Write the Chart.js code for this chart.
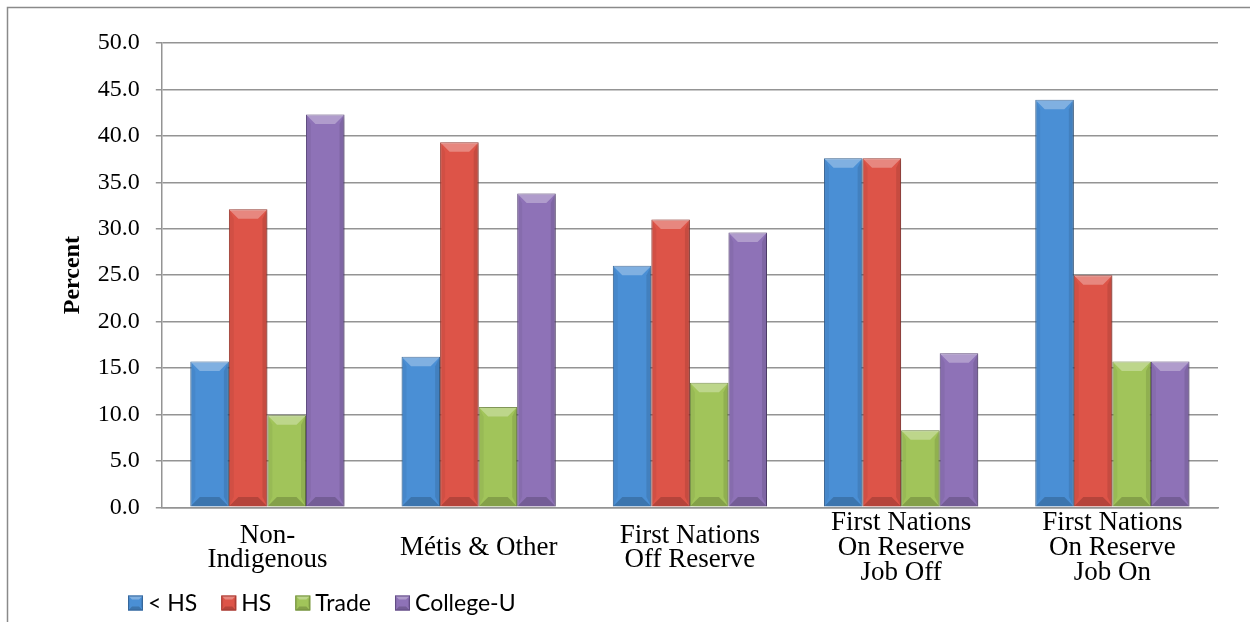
<!DOCTYPE html>
<html>
<head>
<meta charset="utf-8">
<title>Percent by education</title>
<script src="https://cdn.jsdelivr.net/npm/chart.js@4.4.0/dist/chart.umd.min.js"></script>
<style>
    html, body { margin: 0; padding: 0; background: #fff; }
    #wrap { width: 1250px; height: 622px; }
</style>
</head>
<body>
<div id="wrap"><canvas id="bar-chart" width="1250" height="622"></canvas></div>
<script>
    "use strict";

    // Data
    var categories = [
        ["Non-", "Indigenous"],
        "Métis & Other",
        ["First Nations", "Off Reserve"],
        ["First Nations", "On Reserve", "Job Off"],
        ["First Nations", "On Reserve", "Job On"]
    ];
    var seriesNames = ["< HS", "HS", "Trade", "College-U"];
    var lessThanHS = [15.7, 16.2, 26.0, 37.6, 43.9];
    var highSchool = [32.1, 39.3, 31.0, 37.6, 25.0];
    var trade = [9.9, 10.8, 13.4, 8.3, 15.7];
    var collegeU = [42.3, 33.8, 29.6, 16.6, 15.7];
    var yMin = 0, yMax = 50, yStep = 5;

    var faceColors = ["#4a8fd5", "#dd5448", "#a1c45a", "#8e72b7"];
    var edgeColors = ["#36679b", "#a33b32", "#738f3f", "#634d85"];

    var serif = "'Liberation Serif', 'DejaVu Serif', serif";

    // Outer frame
    var framePlugin = {
        id: "frame",
        beforeDraw: function (chart) {
            var ctx = chart.ctx;
            ctx.save();
            ctx.fillStyle = "#fff";
            ctx.fillRect(0, 0, chart.width, chart.height);
            ctx.strokeStyle = "#8a8a8a";
            ctx.lineWidth = 1.5;
            ctx.strokeRect(7.5, 7.5, chart.width + 20, chart.height + 20);
            ctx.restore();
        }
    };

    // soft shadow behind the bars
    var shadowPlugin = {
        id: "barShadow",
        beforeDatasetDraw: function (chart) {
            var ctx = chart.ctx;
            ctx.save();
            ctx.shadowColor = "rgba(0,0,0,0.28)";
            ctx.shadowBlur = 5;
            ctx.shadowOffsetX = 2;
            ctx.shadowOffsetY = 1;
        },
        afterDatasetDraw: function (chart) {
            chart.ctx.restore();
        }
    };

    // bevel look, drawn on top of each bar element
    function bevel(ctx, left, right, top, bottom, b) {
        ctx.fillStyle = "rgba(255,255,255,0.3)";
        ctx.beginPath();
        ctx.moveTo(left, top); ctx.lineTo(right, top);
        ctx.lineTo(right - b, top + b); ctx.lineTo(left + b, top + b);
        ctx.closePath(); ctx.fill();

        ctx.fillStyle = "rgba(0,0,0,0.05)";
        ctx.beginPath();
        ctx.moveTo(left, top); ctx.lineTo(left + b / 2, top + b);
        ctx.lineTo(left + b / 2, bottom - b); ctx.lineTo(left, bottom);
        ctx.closePath(); ctx.fill();

        ctx.fillStyle = "rgba(0,0,0,0.1)";
        ctx.beginPath();
        ctx.moveTo(right, top); ctx.lineTo(right - b / 2, top + b);
        ctx.lineTo(right - b / 2, bottom - b); ctx.lineTo(right, bottom);
        ctx.closePath(); ctx.fill();

        ctx.fillStyle = "rgba(0,0,0,0.18)";
        ctx.beginPath();
        ctx.moveTo(left, bottom); ctx.lineTo(right, bottom);
        ctx.lineTo(right - b, bottom - b); ctx.lineTo(left + b, bottom - b);
        ctx.closePath(); ctx.fill();
    }

    var bevelPlugin = {
        id: "bevel",
        afterDatasetsDraw: function (chart) {
            var ctx = chart.ctx;
            ctx.save();
            chart.getSortedVisibleDatasetMetas().forEach(function (meta) {
                meta.data.forEach(function (el) {
                    var p = el.getProps(["x", "y", "base", "width"], true);
                    var left = p.x - p.width / 2, right = p.x + p.width / 2;
                    var top = Math.min(p.y, p.base), bottom = Math.max(p.y, p.base);
                    var b = Math.min(9, (bottom - top) / 2, p.width / 2);
                    bevel(ctx, left + 0.5, right - 0.5, top + 0.5, bottom - 0.5, b);
                });
            });
            ctx.restore();
        }
    };

    // Legend (bottom left, like the sheet)
    var legendPlugin = {
        id: "sheetLegend",
        afterDraw: function (chart) {
            var ctx = chart.ctx;
            var x = 128, cy = 603, box = 15;
            ctx.save();
            ctx.font = "23px Lato, 'Open Sans', sans-serif";
            ctx.textBaseline = "middle";
            chart.data.datasets.forEach(function (ds) {
                ctx.fillStyle = ds.backgroundColor;
                ctx.fillRect(x, cy - box / 2, box, box);
                bevel(ctx, x, x + box, cy - box / 2, cy + box / 2, 4);
                ctx.strokeStyle = ds.borderColor;
                ctx.lineWidth = 1;
                ctx.strokeRect(x + 0.5, cy - box / 2 + 0.5, box - 1, box - 1);
                ctx.fillStyle = "#000";
                ctx.fillText(ds.label, x + box + 5, cy + 1);
                x += box + 5 + ctx.measureText(ds.label).width + 24;
            });
            ctx.restore();
        }
    };

    var seriesValues = [lessThanHS, highSchool, trade, collegeU];

    var ctx = document.getElementById("bar-chart").getContext("2d");
    var myChart = new Chart(ctx, {
        type: "bar",
        data: {
            labels: categories,
            datasets: seriesValues.map(function (values, i) {
                return {
                    label: seriesNames[i],
                    data: values,
                    backgroundColor: faceColors[i],
                    borderColor: edgeColors[i],
                    borderWidth: 1,
                    categoryPercentage: 0.73,
                    barPercentage: 1.0
                };
            })
        },
        options: {
            responsive: false,
            animation: false,
            devicePixelRatio: 1,
            layout: {
                padding: { left: 58, right: 32, top: 43, bottom: 17 }
            },
            plugins: {
                legend: { display: false },
                tooltip: { enabled: false }
            },
            scales: {
                x: {
                    grid: { display: false },
                    border: { display: true, color: "#949494", width: 1.5 },
                    ticks: {
                        color: "#000",
                        padding: 8,
                        maxRotation: 0,
                        autoSkip: false,
                        crossAlign: "center",
                        font: { family: serif, size: 27, lineHeight: 0.91 }
                    }
                },
                y: {
                    min: yMin,
                    max: yMax,
                    border: { display: true, color: "#949494", width: 1.5 },
                    grid: {
                        color: "#949494",
                        lineWidth: 1.5,
                        tickLength: 6,
                        drawTicks: true
                    },
                    ticks: {
                        stepSize: yStep,
                        color: "#000",
                        padding: 16,
                        font: { family: serif, size: 24 },
                        callback: function (v) { return v.toFixed(1); }
                    },
                    title: {
                        display: true,
                        text: "Percent",
                        color: "#000",
                        padding: { top: 0, bottom: -5 },
                        font: { family: serif, size: 24, weight: "bold", lineHeight: 1.2 }
                    }
                }
            }
        },
        plugins: [framePlugin, shadowPlugin, bevelPlugin, legendPlugin]
    });
</script>
</body>
</html>
